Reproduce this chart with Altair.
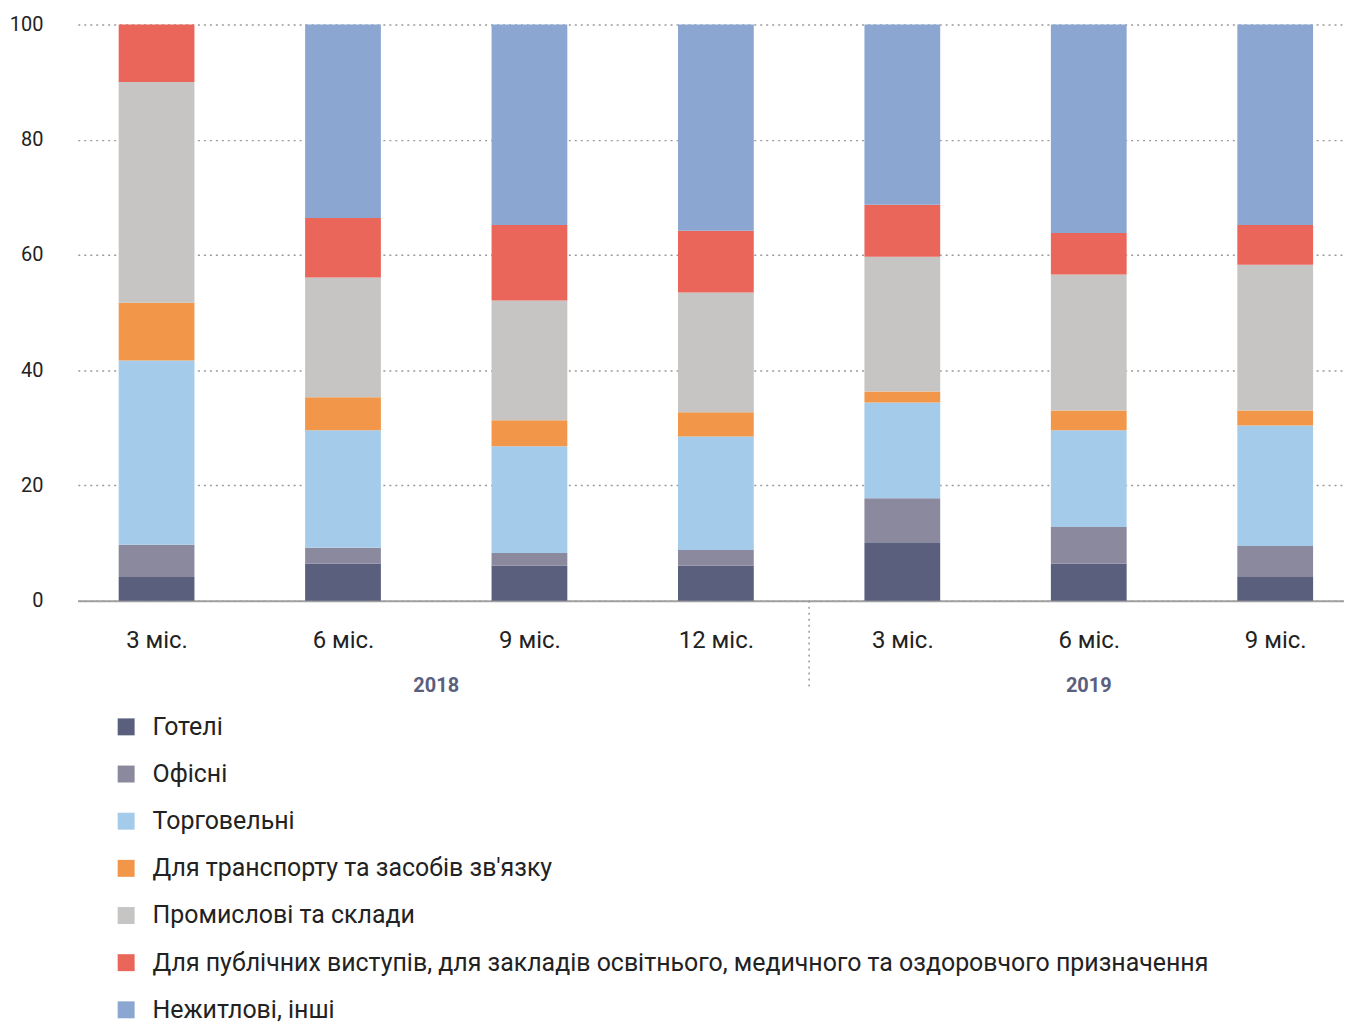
import json
import altair as alt
import pandas as pd

# ---- data ----
periods = ["3 міс.", "6 міс.", "9 міс.", "12 міс.", "3 міс.", "6 міс.", "9 міс."]
years = ["2018", "2018", "2018", "2018", "2019", "2019", "2019"]
categories = [
    "Готелі",
    "Офісні",
    "Торговельні",
    "Для транспорту та засобів зв'язку",
    "Промислові та склади",
    "Для публічних виступів, для закладів освітнього, медичного та оздоровчого призначення",
    "Нежитлові, інші",
]
colors = ["#5a5f7d", "#8b899e", "#a4cbea", "#f2974a", "#c6c5c3", "#ea655a", "#8ba7d1"]

hotels = [4.1, 6.4, 6.1, 6.1, 10.0, 6.4, 4.1]
offices = [5.6, 2.8, 2.2, 2.7, 7.8, 6.4, 5.4]
trade = [32.0, 20.4, 18.5, 19.7, 16.6, 16.8, 20.9]
transport = [10.0, 5.7, 4.5, 4.2, 1.9, 3.4, 2.6]
industrial = [38.3, 20.8, 20.8, 20.8, 23.4, 23.6, 25.3]
public = [10.0, 10.3, 13.1, 10.7, 9.0, 7.2, 6.9]
other = [0.0, 33.6, 34.8, 35.8, 31.3, 36.2, 34.8]

series = [hotels, offices, trade, transport, industrial, public, other]

rows = []
for j, (cat, vals) in enumerate(zip(categories, series)):
    for i, v in enumerate(vals):
        rows.append({"idx": i, "cat": cat, "order": j, "value": v})
df = pd.DataFrame(rows)

ydf = pd.DataFrame({"idx": range(len(years)), "year": years})
year_pos = ydf.groupby("year", as_index=False)["idx"].mean()
sep_pos = pd.DataFrame({"x": [(ydf[ydf.year == "2018"].idx.max() + ydf[ydf.year == "2019"].idx.min()) / 2]})

PLOT_W = 1270
PLOT_H = 578

xscale = alt.Scale(domain=[-0.4225, 6.369], nice=False, zero=False, padding=0)
label_expr = json.dumps(periods, ensure_ascii=False) + "[datum.value]"

bars = (
    alt.Chart(df)
    .transform_stack(stack="value", as_=["y0", "y1"], groupby=["idx"],
                     sort=[alt.SortField("order", order="ascending")])
    .mark_bar(size=76)
    .encode(
        x=alt.X("idx:Q", scale=xscale,
                axis=alt.Axis(values=list(range(len(periods))), labelExpr=label_expr,
                              grid=False, ticks=False, domain=True, domainColor="#a0a0a0",
                              domainWidth=2, labelFontSize=24, labelPadding=28,
                              labelColor="#222222", title=None)),
        y=alt.Y("y0:Q", scale=alt.Scale(domain=[0, 100], nice=False, padding=0),
                axis=alt.Axis(values=[0, 20, 40, 60, 80, 100], grid=True, gridDash=[2, 4],
                              gridColor="#9a9a9a", gridWidth=1.5, domain=False, ticks=False,
                              labelFontSize=20, labelPadding=35, labelColor="#222222",
                              title=None)),
        y2="y1:Q",
        color=alt.Color("cat:N", scale=alt.Scale(domain=categories, range=colors),
                        legend=alt.Legend(orient="none", legendX=36, legendY=692,
                                          direction="vertical", title=None,
                                          symbolType="square", symbolSize=289,
                                          symbolStrokeWidth=0, labelFontSize=25,
                                          labelOffset=14, rowPadding=21.3,
                                          labelColor="#222222", padding=0,
                                          labelLimit=1300)),
        order=alt.Order("order:Q", sort="ascending"),
    )
)

year_text = (
    alt.Chart(year_pos)
    .mark_text(fontSize=20, fontWeight="bold", color="#5a5f7d", baseline="middle")
    .encode(x=alt.X("idx:Q", scale=xscale), y=alt.value(PLOT_H + 86), text="year:N")
)

sep = (
    alt.Chart(sep_pos)
    .mark_rule(color="#9a9a9a", strokeDash=[2, 4], strokeWidth=1.5)
    .encode(x=alt.X("x:Q", scale=xscale), y=alt.value(PLOT_H), y2=alt.value(PLOT_H + 88))
)

chart = (
    alt.layer(bars, sep, year_text)
    .properties(width=PLOT_W, height=PLOT_H,
                padding={"left": 1, "top": 5, "right": 0, "bottom": 0})
    .configure(font="Roboto")
    .configure_view(stroke=None)
)

chart.save("out.html", embed_options={"renderer": "svg", "actions": False})
